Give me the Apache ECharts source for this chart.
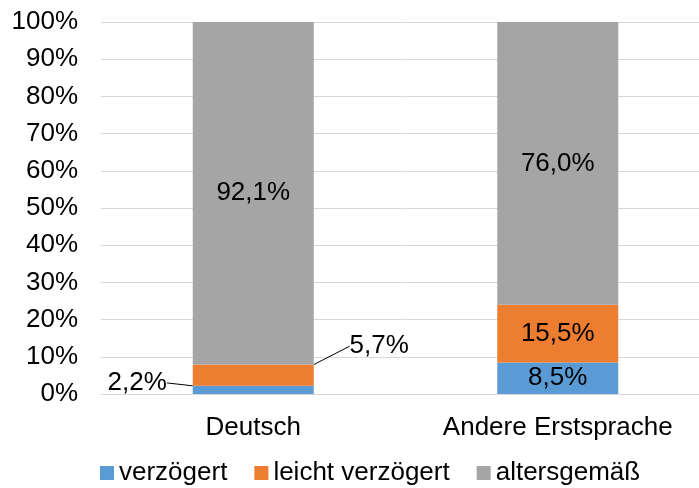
<!DOCTYPE html>
<html>
<head>
<meta charset="utf-8">
<script src="https://cdn.jsdelivr.net/npm/echarts@6/dist/echarts.min.js"></script>
<style>
  html, body { margin: 0; padding: 0; background: #fff; }
  #main { width: 699px; height: 488px; }
</style>
</head>
<body>
<div id="main"></div>
<script>
// Daten
var kategorien = ['Deutsch', 'Andere Erstsprache'];
var verzoegert = [2.2, 8.5];
var leichtVerzoegert = [5.7, 15.5];
var altersgemaess = [92.1, 76.0];
var yTicks = [0, 10, 20, 30, 40, 50, 60, 70, 80, 90, 100];

var schrift = 'Liberation Sans, Arial, sans-serif';

var fmt = function (p) {
    return p.value.toFixed(1).replace('.', ',') + '%';
};

var chart = echarts.init(document.getElementById('main'));

var labelBasis = {
    show: true,
    position: 'inside',
    formatter: fmt,
    color: '#000',
    fontSize: 26,
    fontFamily: schrift
};

var option = {
    animation: false,
    grid: { left: 101, top: 22, width: 609, height: 372, outerBoundsMode: 'none' },
    legend: {
        left: 95,
        top: 455,
        itemWidth: 14,
        itemHeight: 14,
        itemGap: 27,
        icon: 'rect',
        textStyle: { fontSize: 26, fontFamily: schrift, color: '#000' },
        data: ['verzögert', 'leicht verzögert', 'altersgemäß']
    },
    xAxis: {
        type: 'category',
        data: kategorien,
        axisLine: { lineStyle: { color: '#d9d9d9', width: 1 } },
        axisTick: { show: false },
        axisLabel: { color: '#000', fontSize: 26, fontFamily: schrift, margin: 21 }
    },
    yAxis: {
        type: 'value',
        min: yTicks[0],
        max: yTicks[yTicks.length - 1],
        interval: 10,
        axisLine: { show: false },
        axisTick: { show: false },
        splitLine: { lineStyle: { color: '#d9d9d9', width: 1 } },
        axisLabel: { formatter: '{value}%', color: '#000', fontSize: 26, fontFamily: schrift, margin: 23 }
    },
    series: [
        {
            name: 'verzögert',
            type: 'bar',
            stack: 'a',
            barWidth: 121,
            itemStyle: { color: '#5b9bd5' },
            label: labelBasis,
            labelLine: { show: true, lineStyle: { color: '#000', width: 1 } },
            labelLayout: function (p) {
                if (p.dataIndex === 0) return { dx: -116, dy: -7 };
                return {};
            },
            data: verzoegert
        },
        {
            name: 'leicht verzögert',
            type: 'bar',
            stack: 'a',
            itemStyle: { color: '#ed7d31' },
            label: labelBasis,
            labelLine: { show: true, lineStyle: { color: '#000', width: 1 } },
            labelLayout: function (p) {
                if (p.dataIndex === 0) return { dx: 126, dy: -29 };
                return {};
            },
            data: leichtVerzoegert
        },
        {
            name: 'altersgemäß',
            type: 'bar',
            stack: 'a',
            itemStyle: { color: '#a5a5a5' },
            label: labelBasis,
            data: altersgemaess
        }
    ]
};

chart.setOption(option);
</script>
</body>
</html>
